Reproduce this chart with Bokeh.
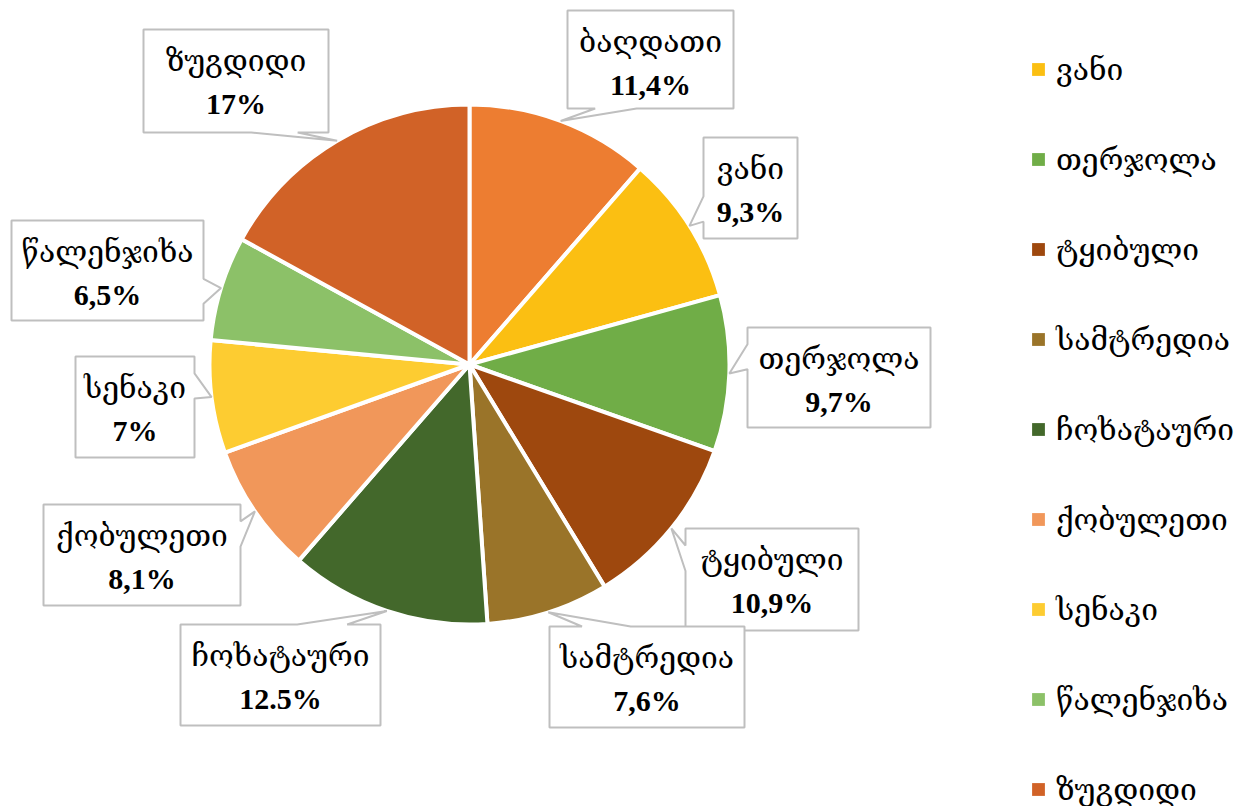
import math
from bokeh.plotting import figure
from bokeh.models import ColumnDataSource, Range1d
from bokeh.core.properties import value
from bokeh.embed import file_html
from bokeh.resources import INLINE

# ---------------- data ----------------
districts = ["ბაღდათი", "ვანი", "თერჯოლა", "ტყიბული", "სამტრედია",
             "ჩოხატაური", "ქობულეთი", "სენაკი", "წალენჯიხა", "ზუგდიდი"]
shares = [11.4, 9.3, 9.7, 10.9, 7.6, 12.5, 8.1, 7.0, 6.5, 17.0]
share_labels = ["11,4%", "9,3%", "9,7%", "10,9%", "7,6%",
                "12.5%", "8,1%", "7%", "6,5%", "17%"]

# ---------------- styles / layout ----------------
colors = ["#ED7D31", "#FBBF12", "#70AD47", "#9E480E", "#9A7429",
          "#43682B", "#F1975A", "#FDCC31", "#8CC168", "#D16227"]
# callout boxes (left, top, width, height) in page pixels
boxes = [(567, 10, 166, 98), (703, 137, 94, 101), (747, 327, 183, 100),
         (685, 528, 173, 102), (549, 626, 195, 101), (180, 624, 200, 101),
         (43, 504, 197, 101), (75, 356, 119, 101), (11, 220, 192, 100),
         (143, 29, 185, 103)]
CX, CY, R = 469, 364, 260          # pie centre / radius (page pixels)
W, H = 1236, 806
FONT_NAME = "'Liberation Serif', 'DejaVu Serif', 'DejaVu Sans', serif"
FONT = value(FONT_NAME)


def Y(pix):
    return H - pix


p = figure(width=W, height=H, output_backend="svg", toolbar_location=None,
           x_range=Range1d(0, W), y_range=Range1d(0, H),
           min_border=0, outline_line_color=None)
p.axis.visible = False
p.grid.visible = False
p.background_fill_color = "white"

# ---------------- pie ----------------
total = sum(shares)
starts, ends, mids = [], [], []
cum = 0.0
for s in shares:
    a0 = cum / total
    cum += s
    a1 = cum / total
    starts.append(math.pi / 2 - 2 * math.pi * a0)
    ends.append(math.pi / 2 - 2 * math.pi * a1)
    mids.append(2 * math.pi * (a0 + a1) / 2)

src = ColumnDataSource(dict(name=districts, share=shares, start=starts,
                            end=ends, color=colors))
p.wedge(x=CX, y=Y(CY), radius=R, start_angle="start", end_angle="end",
        direction="clock", fill_color="color", line_color="white",
        line_width=4, source=src)

# ---------------- callouts ----------------
xs, ys, tx_name, ty_name, ty_pct = [], [], [], [], []
for (l, t, w, h), th in zip(boxes, mids):
    tx = CX + R * math.sin(th)
    ty = CY - R * math.cos(th)
    r, b = l + w, t + h
    cx, cy = l + w / 2, t + h / 2
    dxn, dyn = (tx - cx) / w, (ty - cy) / h
    if abs(dxn) > abs(dyn):
        ya, yb = ((t + h * 7 / 12, t + h * 10 / 12) if dyn > 0
                  else (t + h * 2 / 12, t + h * 5 / 12))
        if dxn < 0:
            pts = [(l, t), (r, t), (r, b), (l, b), (l, yb), (tx, ty), (l, ya)]
        else:
            pts = [(l, t), (r, t), (r, ya), (tx, ty), (r, yb), (r, b), (l, b)]
    else:
        xa, xb = ((l + w * 7 / 12, l + w * 10 / 12) if dxn > 0
                  else (l + w * 2 / 12, l + w * 5 / 12))
        if dyn < 0:
            pts = [(l, t), (xa, t), (tx, ty), (xb, t), (r, t), (r, b), (l, b)]
        else:
            pts = [(l, t), (r, t), (r, b), (xb, b), (tx, ty), (xa, b), (l, b)]
    xs.append([q[0] for q in pts])
    ys.append([Y(q[1]) for q in pts])
    tx_name.append(cx)
    ty_name.append(Y(t + 31))
    ty_pct.append(Y(t + 74))

p.patches(xs=xs, ys=ys, fill_color="white", line_color="#BFBFBF",
          line_width=2)

lab = ColumnDataSource(dict(x=tx_name, yn=ty_name, yp=ty_pct,
                            name=districts, pct=share_labels))
p.text(x="x", y="yn", text="name", source=lab, text_font=FONT,
       text_font_size="30px", text_align="center", text_baseline="middle",
       text_color="#000000")
p.text(x="x", y="yp", text="pct", source=lab, text_font=FONT,
       text_font_size="30px", text_font_style="bold", text_align="center",
       text_baseline="middle", text_color="#000000")

# ---------------- legend ----------------
leg_src = ColumnDataSource(dict(x=[float("nan")] * len(districts),
                                y=[float("nan")] * len(districts),
                                name=districts, color=colors))
p.rect(x="x", y="y", width=1, height=1, fill_color="color", line_color=None,
       source=leg_src, legend_field="name")
lg = p.legend[0]
lg.location = (1030, H - 814)
lg.orientation = "vertical"
lg.label_text_font = FONT_NAME
lg.label_text_font_size = "30px"
lg.label_text_color = "#000000"
lg.glyph_width = 16
lg.glyph_height = 16
lg.label_height = 50
lg.spacing = 40
lg.padding = 0
lg.margin = 0
lg.label_standoff = 10
lg.border_line_color = None
lg.background_fill_alpha = 0

open("out.html", "w").write(file_html(p, INLINE))
